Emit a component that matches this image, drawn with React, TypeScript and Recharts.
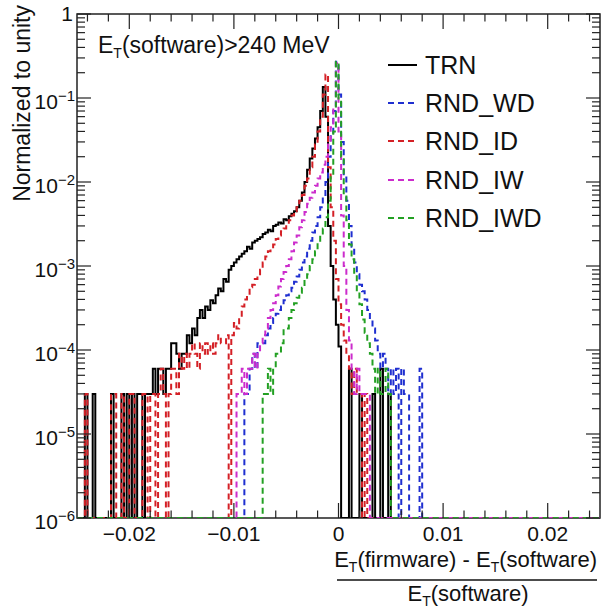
import React from 'react';
import { ComposedChart, Line, XAxis, YAxis, ReferenceArea, Legend } from 'recharts';

// histogram binning
const BIN_WIDTH = 0.00025;
const X_MIN = -0.025;
const X_MAX = 0.025;
const N_BINS = 200;
const Y_MIN = 1e-6;
const Y_MAX = 1;

// bin contents, starting at bin index *Start (0 = empty bin)
const trnStart = 3;
const trnValues = [
  3e-5, 0, 0, 3e-5, 0, 0, 0, 0, 0, 0, 3e-5, 0, 0, 0, 3e-5, 0, 3e-5, 0, 3e-5, 0,
  3e-5, 3e-5, 0, 3e-5, 3e-5, 3e-5, 6e-5, 3e-5, 6e-5, 6e-5, 3e-5, 6e-5, 6e-5, 1.2e-4, 1.2e-4, 9e-5, 6e-5, 9e-5, 9e-5, 1.5e-4,
  1.2e-4, 1.8e-4, 1.5e-4, 2.4e-4, 3e-4, 2.4e-4, 3.3e-4, 3e-4, 3.9e-4, 3.6e-4, 4.5e-4, 5.4e-4, 5e-4, 7e-4, 6.5e-4, 9e-4, 1e-3, 1.1e-3, 1.2e-3, 1.3e-3,
  1.4e-3, 1.5e-3, 1.7e-3, 1.6e-3, 1.9e-3, 2e-3, 2.1e-3, 2.2e-3, 2.4e-3, 2.5e-3, 2.7e-3, 2.6e-3, 3e-3, 3.1e-3, 3.3e-3, 3.2e-3, 3.6e-3, 3.5e-3, 3.9e-3, 4.2e-3,
  4.5e-3, 5e-3, 6e-3, 7.5e-3, 1e-2, 1.4e-2, 1.9e-2, 2.5e-2, 3.3e-2, 4.5e-2, 7e-2, 0.135, 0.06, 3e-3, 1e-3, 4e-4, 2e-4, 1.1e-4, 0, 0,
  0, 6e-5, 0, 0, 0, 3e-5, 0, 0, 0, 0, 3e-5, 0, 0, 6e-5, 0, 0, 3e-5,
];

const wdStart = 64;
const wdValues = [
  3e-5, 3e-5, 6e-5, 9e-5, 6e-5, 1.2e-4, 1.2e-4, 1.2e-4, 1.5e-4, 1.8e-4, 2.1e-4, 2.4e-4, 2.7e-4, 3e-4, 3.3e-4, 3.9e-4, 4.5e-4, 5e-4, 5.5e-4, 6.5e-4,
  7.5e-4, 9e-4, 1.1e-3, 1.3e-3, 1.6e-3, 2e-3, 2.5e-3, 3e-3, 3.8e-3, 5e-3, 7e-3, 1e-2, 2e-2, 3.5e-2, 7e-2, 0.27, 0.11, 3e-2, 1.2e-2, 6e-3,
  3e-3, 1.7e-3, 1.1e-3, 8e-4, 6e-4, 5e-4, 4e-4, 3e-4, 2.4e-4, 1.8e-4, 1.3e-4, 9e-5, 6e-5, 9e-5, 6e-5, 3e-5, 6e-5, 3e-5, 6e-5, 0,
  6e-5, 3e-5, 3e-5, 0, 0, 0, 0, 6e-5,
];

const idStart = 3;
const idValues = [
  3e-5, 0, 0, 0, 0, 0, 0, 0, 0, 0, 3e-5, 3e-5, 0, 0, 3e-5, 0, 0, 3e-5, 3e-5, 0,
  0, 0, 3e-5, 3e-5, 0, 3e-5, 3e-5, 0, 3e-5, 6e-5, 3e-5, 0, 3e-5, 6e-5, 6e-5, 3e-5, 9e-5, 6e-5, 9e-5, 6e-5,
  9e-5, 1.2e-4, 9e-5, 6e-5, 1.2e-4, 9e-5, 1.2e-4, 9e-5, 1.2e-4, 9e-5, 1.2e-4, 1.5e-4, 1.2e-4, 1.2e-4, 1.5e-4, 0, 1.5e-4, 2.1e-4, 1.8e-4, 2.4e-4,
  3.3e-4, 4e-4, 4.5e-4, 5.6e-4, 6e-4, 7e-4, 8e-4, 9e-4, 1.1e-3, 1.3e-3, 1.5e-3, 1.6e-3, 1.8e-3, 2.1e-3, 2.3e-3, 2.6e-3, 2.8e-3, 3.1e-3, 3.5e-3, 4e-3,
  4.5e-3, 5e-3, 6e-3, 7e-3, 9e-3, 1.1e-2, 1.5e-2, 2e-2, 2.8e-2, 4e-2, 6e-2, 0.11, 0.19, 1.5e-2, 5e-3, 2e-3, 7e-4, 3.5e-4, 2e-4, 1.3e-4,
  9e-5, 6e-5, 3e-5, 6e-5, 3e-5, 3e-5, 0, 3e-5,
];

const iwStart = 61;
const iwValues = [
  3e-5, 3e-5, 6e-5, 3e-5, 6e-5, 6e-5, 9e-5, 6e-5, 9e-5, 1.2e-4, 1.5e-4, 1.8e-4, 2.4e-4, 3e-4, 3.6e-4, 4.5e-4, 5.7e-4, 7e-4, 8.5e-4, 1e-3,
  1.2e-3, 1.5e-3, 1.9e-3, 2.3e-3, 2.9e-3, 3.5e-3, 4.4e-3, 5.5e-3, 6.5e-3, 7.5e-3, 9e-3, 1.1e-2, 1.3e-2, 1.6e-2, 2e-2, 2.8e-2, 4.5e-2, 8e-2, 0.26, 4e-2,
  4e-3, 1e-3, 3e-4, 1.3e-4, 6e-5, 3e-5, 6e-5, 3e-5, 3e-5, 3e-5, 3e-5,
];

const iwdStart = 71;
const iwdValues = [
  3e-5, 3e-5, 6e-5, 3e-5, 6e-5, 9e-5, 9e-5, 1.2e-4, 1.8e-4, 1.8e-4, 2.4e-4, 3e-4, 3.6e-4, 4.2e-4, 4.8e-4, 5.5e-4, 7e-4, 8e-4, 1e-3, 1.2e-3,
  1.5e-3, 1.9e-3, 2.3e-3, 2.8e-3, 3.8e-3, 6e-3, 1.2e-2, 4e-2, 0.27, 9e-2, 2e-2, 7e-3, 3.5e-3, 1.8e-3, 1.2e-3, 8e-4, 5e-4, 3.5e-4, 2.3e-4, 1.6e-4,
  1.2e-4, 9e-5, 6e-5, 3e-5, 6e-5, 3e-5, 3e-5, 6e-5, 3e-5,
];

const series = [
  { key: 'trn', name: 'TRN', color: '#000000', dashed: false, start: trnStart, values: trnValues },
  { key: 'wd', name: 'RND_WD', color: '#1f2fd0', dashed: true, start: wdStart, values: wdValues },
  { key: 'id', name: 'RND_ID', color: '#d42026', dashed: true, start: idStart, values: idValues },
  { key: 'iw', name: 'RND_IW', color: '#cc2ccc', dashed: true, start: iwStart, values: iwValues },
  { key: 'iwd', name: 'RND_IWD', color: '#23a023', dashed: true, start: iwdStart, values: iwdValues },
];

const xMajorTicks = [-0.02, -0.01, 0, 0.01, 0.02];
const xMinorTicks = [
  -0.024, -0.022, -0.018, -0.016, -0.014, -0.012, -0.008, -0.006, -0.004, -0.002,
  0.002, 0.004, 0.006, 0.008, 0.012, 0.014, 0.016, 0.018, 0.022, 0.024,
];
const yDecades = [1e-6, 1e-5, 1e-4, 1e-3, 1e-2, 1e-1, 1];
const yMinorTicks = yDecades.slice(0, -1).flatMap((d) => [2, 3, 4, 5, 6, 7, 8, 9].map((m) => m * d));

// one point per bin edge, stepAfter draws the histogram outline
const data = Array.from({ length: N_BINS + 1 }, (_, k) => {
  const row: Record<string, number> = { x: X_MIN + k * BIN_WIDTH };
  series.forEach((s) => {
    const idx = Math.min(k, N_BINS - 1) - s.start;
    const v = idx >= 0 && idx < s.values.length ? s.values[idx] : 0;
    row[s.key] = v > 0 ? v : Y_MIN;
  });
  return row;
});

const FONT = '"Liberation Sans", Arial, Helvetica, sans-serif';
const PLOT = { left: 77, top: 14, right: 600, bottom: 518 };
const AXIS_COLOR = '#222';

function XTick(props: any) {
  const { x, payload } = props;
  const major = xMajorTicks.includes(payload.value);
  const len = major ? 15 : 7.5;
  const v = payload.value;
  const label = v === 0 ? '0' : (v < 0 ? '\u2212' : '') + Math.abs(v).toString();
  return (
    <g>
      <line x1={x} x2={x} y1={PLOT.bottom} y2={PLOT.bottom - len} stroke={AXIS_COLOR} strokeWidth={1.2} />
      <line x1={x} x2={x} y1={PLOT.top} y2={PLOT.top + len} stroke={AXIS_COLOR} strokeWidth={1.2} />
      {major && (
        <text x={x} y={PLOT.bottom + 23} textAnchor="middle" fontSize={21} fontFamily={FONT} fill="#111">
          {label}
        </text>
      )}
    </g>
  );
}

function YTick(props: any) {
  const { y, payload } = props;
  const v = payload.value;
  const major = yDecades.includes(v);
  const len = major ? 14 : 8;
  const exp = Math.round(Math.log10(v));
  return (
    <g>
      <line x1={PLOT.left} x2={PLOT.left + len} y1={y} y2={y} stroke={AXIS_COLOR} strokeWidth={1.2} />
      <line x1={PLOT.right - len} x2={PLOT.right} y1={y} y2={y} stroke={AXIS_COLOR} strokeWidth={1.2} />
      {major && exp === 0 && (
        <text x={PLOT.left - 4} y={y + 7} textAnchor="end" fontSize={21} fontFamily={FONT} fill="#111">
          1
        </text>
      )}
      {major && exp !== 0 && (
        <text x={PLOT.left - 2} y={y + 11} textAnchor="end" fontFamily={FONT} fill="#111">
          <tspan fontSize={21}>10</tspan>
          <tspan fontSize={15} dy={-8}>{'\u2212' + Math.abs(exp)}</tspan>
        </text>
      )}
    </g>
  );
}

function renderLegend() {
  return (
    <div style={{ fontFamily: FONT }}>
      {series.map((s) => (
        <div key={s.key} style={{ display: 'flex', alignItems: 'center', height: 38.2 }}>
          <svg width={37} height={38}>
            <line
              x1={0}
              x2={29}
              y1={19}
              y2={19}
              stroke={s.color}
              strokeWidth={2}
              strokeDasharray={s.dashed ? '6 4' : undefined}
            />
          </svg>
          <span style={{ fontSize: 25, color: '#111', lineHeight: '38px' }}>{s.name}</span>
        </div>
      ))}
    </div>
  );
}

export default function App() {
  return (
    <div style={{ position: 'absolute', left: 0, top: 0, width: 602, height: 608, background: '#fff' }}>
      <ComposedChart
        width={602}
        height={608}
        data={data}
        margin={{ top: PLOT.top, right: 602 - PLOT.right, bottom: 608 - PLOT.bottom - 40, left: PLOT.left - 60 }}
      >
        <XAxis
          dataKey="x"
          type="number"
          domain={[X_MIN, X_MAX]}
          ticks={[...xMajorTicks, ...xMinorTicks].sort((a, b) => a - b)}
          interval={0}
          tick={<XTick />}
          tickLine={false}
          axisLine={false}
          height={40}
          allowDataOverflow
        />
        <YAxis
          type="number"
          scale="log"
          domain={[Y_MIN, Y_MAX]}
          ticks={[...yDecades, ...yMinorTicks].sort((a, b) => a - b)}
          interval={0}
          tick={<YTick />}
          tickLine={false}
          axisLine={false}
          width={60}
          allowDataOverflow
        />
        {series.map((s) => (
          <Line
            key={s.key}
            dataKey={s.key}
            name={s.name}
            type="stepAfter"
            stroke={s.color}
            strokeWidth={2}
            strokeDasharray={s.dashed ? '6 4' : undefined}
            dot={false}
            activeDot={false}
            isAnimationActive={false}
          />
        ))}
        <ReferenceArea x1={X_MIN} x2={X_MAX} y1={Y_MIN} y2={Y_MAX} fill="none" stroke={AXIS_COLOR} strokeWidth={1.5} />
        <Legend
          layout="vertical"
          align="center"
          verticalAlign="middle"
          content={renderLegend}
          wrapperStyle={{ left: 388, top: 46, width: 210 }}
        />
      </ComposedChart>
      <svg
        width={602}
        height={608}
        style={{ position: 'absolute', left: 0, top: 0, pointerEvents: 'none' }}
        fontFamily={FONT}
        fill="#111"
      >
        <text transform="translate(30, 5) rotate(-90)" textAnchor="end" fontSize={23}>
          Normalized to unity
        </text>
        <text x={98} y={53} fontSize={23}>
          E<tspan fontSize={14} dy={5}>T</tspan>
          <tspan dy={-5}>(software)&gt;240 MeV</tspan>
        </text>
        <text x={597} y={567} textAnchor="end" fontSize={22}>
          E<tspan fontSize={14} dy={5}>T</tspan>
          <tspan dy={-5}>(firmware) - E</tspan>
          <tspan fontSize={14} dy={5}>T</tspan>
          <tspan dy={-5}>(software)</tspan>
        </text>
        <line x1={337} x2={597} y1={580} y2={580} stroke="#111" strokeWidth={1.5} />
        <text x={468} y={601} textAnchor="middle" fontSize={22}>
          E<tspan fontSize={14} dy={5}>T</tspan>
          <tspan dy={-5}>(software)</tspan>
        </text>
      </svg>
    </div>
  );
}
